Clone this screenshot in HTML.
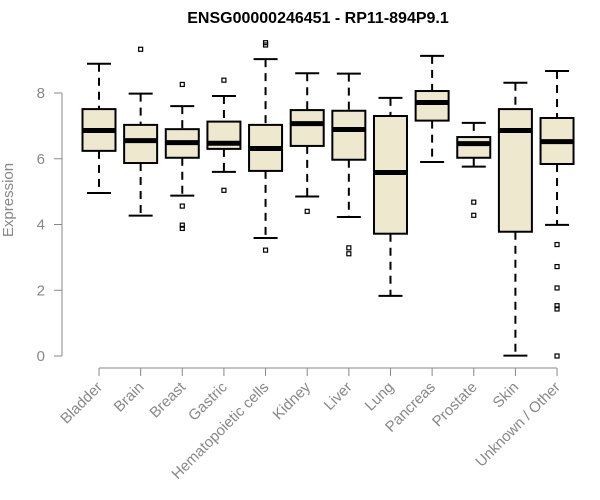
<!DOCTYPE html>
<html><head><meta charset="utf-8"><style>
html,body{margin:0;padding:0;background:#fff;}
svg{display:block;font-family:"Liberation Sans",Arial,sans-serif;}
</style></head><body>
<svg id="chart" width="600" height="500" viewBox="0 0 600 500">
<text x="318" y="23" text-anchor="middle" font-size="16" font-weight="bold">ENSG00000246451 - RP11-894P9.1</text>
<text transform="translate(13,200) rotate(-90)" text-anchor="middle" font-size="15" fill="#888">Expression</text>
<g id="yaxis"></g>
<g id="xaxis"></g>
<g id="boxes"></g>
</svg>
<script>
const categories=["Bladder","Brain","Breast","Gastric","Hematopoietic cells","Kidney","Liver","Lung","Pancreas","Prostate","Skin","Unknown / Other"];
const whiskerLow=[4.96,4.27,4.88,5.6,3.59,4.85,4.23,1.83,5.9,5.76,0.01,3.99];
const q1=[6.24,5.87,6.03,6.3,5.63,6.39,5.97,3.72,7.16,6.03,3.78,5.84];
const medians=[6.86,6.55,6.49,6.47,6.31,7.07,6.89,5.58,7.71,6.46,6.86,6.52];
const q3=[7.51,7.03,6.9,7.13,7.03,7.48,7.46,7.3,8.06,6.66,7.51,7.24];
const whiskerHigh=[8.89,7.98,7.6,7.91,9.03,8.6,8.59,7.85,9.13,7.09,8.31,8.67];
const outliers=[[],[9.33],[8.26,4.56,3.98,3.88],[8.39,5.04],[9.53,9.46,3.22],[4.4],[3.29,3.11],[],[],[4.68,4.28],[],[3.39,2.72,2.07,1.53,1.43,0]];
const yTicks=[0,2,4,6,8];
const NS="http://www.w3.org/2000/svg";
function y(v){return 356-v*32.875;}
function x(i){return 99+i*41.64;}
function mk(p,tag,attrs){const e=document.createElementNS(NS,tag);for(const k in attrs)e.setAttribute(k,attrs[k]);p.appendChild(e);return e;}
const ya=document.getElementById('yaxis'),xa=document.getElementById('xaxis'),bx=document.getElementById('boxes');
let l=mk(ya,'line',{x1:62,x2:62,y1:y(0),y2:y(8),stroke:'#888'});

yTicks.forEach(t=>{
 const tk=mk(ya,'line',{x1:54,x2:62,y1:y(t),y2:y(t),stroke:'#888'});
 
 const tx=mk(ya,'text',{x:45,y:y(t)+5,'text-anchor':'end','font-size':15,fill:'#888'});
 
 tx.textContent=t;
});
l=mk(xa,'line',{x1:x(0),x2:x(categories.length-1),y1:368,y2:368,stroke:'#888'});

categories.forEach((c,i)=>{
 const cx=x(i);
 const tk=mk(xa,'line',{x1:cx,x2:cx,y1:368,y2:376,stroke:'#888'});
 
 const tx=mk(xa,'text',{x:cx+4,y:388,'text-anchor':'end','font-size':15,fill:'#888',transform:`rotate(-45 ${cx+4} 388)`});
 
 tx.textContent=c;
 const g=mk(bx,'g',{});
 
 
 const hw=16.5,cw=12;
 mk(g,'line',{x1:cx,x2:cx,y1:y(whiskerHigh[i]),y2:y(q3[i]),stroke:'#000','stroke-width':2,'stroke-dasharray':'8,6'});
 mk(g,'line',{x1:cx,x2:cx,y1:y(q1[i]),y2:y(whiskerLow[i]),stroke:'#000','stroke-width':2,'stroke-dasharray':'8,6'});
 mk(g,'line',{x1:cx-cw,x2:cx+cw,y1:y(whiskerHigh[i]),y2:y(whiskerHigh[i]),stroke:'#000','stroke-width':2});
 mk(g,'line',{x1:cx-cw,x2:cx+cw,y1:y(whiskerLow[i]),y2:y(whiskerLow[i]),stroke:'#000','stroke-width':2});
 mk(g,'rect',{x:cx-hw,y:y(q3[i]),width:hw*2,height:y(q1[i])-y(q3[i]),fill:'#EDE8CE',stroke:'#000','stroke-width':2});
 mk(g,'line',{x1:cx-hw,x2:cx+hw,y1:y(medians[i]),y2:y(medians[i]),stroke:'#000','stroke-width':5});
 outliers[i].forEach(v=>{
  const o=mk(g,'rect',{x:cx-2,y:y(v)-2,width:4,height:4,fill:'none',stroke:'#000','stroke-width':1.2});
  
 });
});
</script>
</body></html>
